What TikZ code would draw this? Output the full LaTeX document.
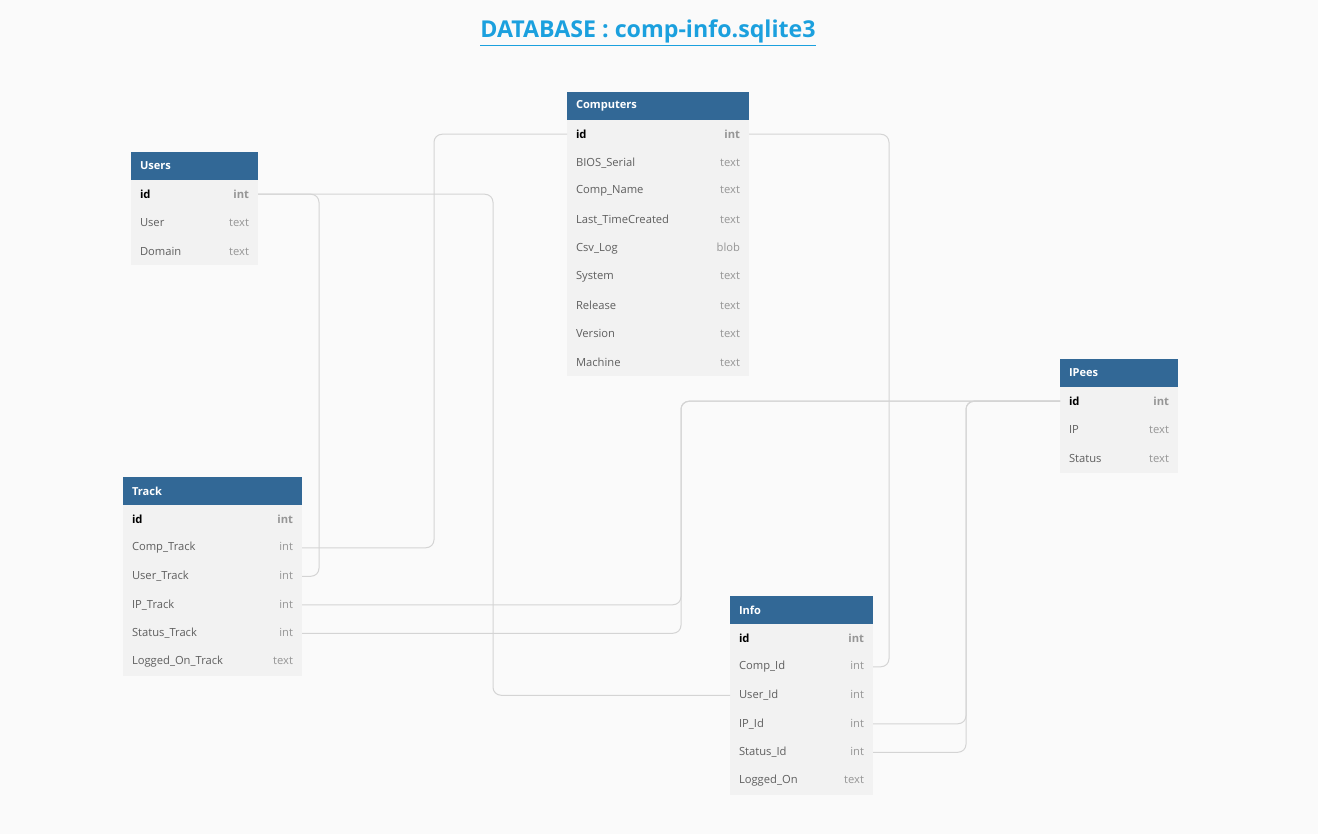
\documentclass[tikz,border=0pt]{standalone}
\usepackage{fontspec}
\setmainfont{Open Sans}
\usepackage{tikz}
\usetikzlibrary{positioning,calc}
\definecolor{hdblue}{RGB}{50,104,150}
\definecolor{rowgray}{RGB}{242,242,242}
\definecolor{bggray}{RGB}{250,250,250}
\definecolor{fieldgray}{RGB}{95,95,95}
\definecolor{typegray}{RGB}{150,150,150}
\definecolor{linkgray}{RGB}{212,212,212}
\definecolor{titleblue}{RGB}{27,160,222}
\newcommand{\typ}[1]{\hfill{\color{typegray}#1}}

\begin{document}
\begin{tikzpicture}[x=0.75pt,y=-0.75pt,
   hd/.style={fill=hdblue, text=white, anchor=north west, align=left,
              font=\fontsize{8.3}{10}\selectfont\bfseries, minimum height=21pt,
              inner xsep=6.75pt, inner ysep=0pt, outer sep=0pt},
   fld/.style={fill=rowgray, text=fieldgray, align=left,
               font=\fontsize{8.4}{10}\selectfont, minimum height=21.375pt,
               inner xsep=6.75pt, inner ysep=0pt, outer sep=0pt},
   key/.style={fld, text=black, font=\fontsize{8.4}{10}\selectfont\bfseries},
   link/.style={draw=linkgray, line width=0.75pt, rounded corners=6pt},
   title/.style={text=titleblue, font=\fontsize{17.4}{20}\selectfont\bfseries}]
  \fill[bggray] (0,0) rectangle (1318,834);
  \useasboundingbox (0,0) rectangle (1318,834);
  \node[title] (head) at (648,33) {\underline{DATABASE : comp-info.sqlite3}};
  % Users
  \node[hd, text width=81.75pt] (users) at (131,152) {Users};
  \node[key, text width=81.75pt, below=0pt of users] (users-id) {id\typ{int}};
  \node[fld, text width=81.75pt, below=0pt of users-id] (users-user) {User\typ{text}};
  \node[fld, text width=81.75pt, below=0pt of users-user] (users-domain) {Domain\typ{text}};
  % Computers
  \node[hd, text width=123pt] (comp) at (567,92) {Computers};
  \node[key, text width=123pt, below=0pt of comp] (comp-id) {id\typ{int}};
  \node[fld, text width=123pt, below=0pt of comp-id] (comp-bios) {BIOS\_Serial\typ{text}};
  \node[fld, text width=123pt, below=0pt of comp-bios] (comp-name) {Comp\_Name\typ{text}};
  \node[fld, text width=123pt, below=0pt of comp-name] (comp-last) {Last\_TimeCreated\typ{text}};
  \node[fld, text width=123pt, below=0pt of comp-last] (comp-csv) {Csv\_Log\typ{blob}};
  \node[fld, text width=123pt, below=0pt of comp-csv] (comp-sys) {System\typ{text}};
  \node[fld, text width=123pt, below=0pt of comp-sys] (comp-rel) {Release\typ{text}};
  \node[fld, text width=123pt, below=0pt of comp-rel] (comp-ver) {Version\typ{text}};
  \node[fld, text width=123pt, below=0pt of comp-ver] (comp-mach) {Machine\typ{text}};
  % Track
  \node[hd, text width=120.75pt] (track) at (123,477) {Track};
  \node[key, text width=120.75pt, below=0pt of track] (track-id) {id\typ{int}};
  \node[fld, text width=120.75pt, below=0pt of track-id] (track-comp) {Comp\_Track\typ{int}};
  \node[fld, text width=120.75pt, below=0pt of track-comp] (track-user) {User\_Track\typ{int}};
  \node[fld, text width=120.75pt, below=0pt of track-user] (track-ip) {IP\_Track\typ{int}};
  \node[fld, text width=120.75pt, below=0pt of track-ip] (track-status) {Status\_Track\typ{int}};
  \node[fld, text width=120.75pt, below=0pt of track-status] (track-logged) {Logged\_On\_Track\typ{text}};
  % Info
  \node[hd, text width=93.75pt] (info) at (730,596) {Info};
  \node[key, text width=93.75pt, below=0pt of info] (info-id) {id\typ{int}};
  \node[fld, text width=93.75pt, below=0pt of info-id] (info-comp) {Comp\_Id\typ{int}};
  \node[fld, text width=93.75pt, below=0pt of info-comp] (info-user) {User\_Id\typ{int}};
  \node[fld, text width=93.75pt, below=0pt of info-user] (info-ip) {IP\_Id\typ{int}};
  \node[fld, text width=93.75pt, below=0pt of info-ip] (info-status) {Status\_Id\typ{int}};
  \node[fld, text width=93.75pt, below=0pt of info-status] (info-logged) {Logged\_On\typ{text}};
  % IPees
  \node[hd, text width=75pt] (ipees) at (1060,359) {IPees};
  \node[key, text width=75pt, below=0pt of ipees] (ip-id) {id\typ{int}};
  \node[fld, text width=75pt, below=0pt of ip-id] (ip-ip) {IP\typ{text}};
  \node[fld, text width=75pt, below=0pt of ip-ip] (ip-status) {Status\typ{text}};
  % links
  \draw[link] (comp-id.east) -| ($(info-comp.east)+(16,0)$) -- (info-comp.east);
  \draw[link] (users-id.east) -- ($(users-id.east)+(235,0)$) |- (info-user.west);
  \draw[link] (users-id.east) -| ($(track-user.east)+(17,0)$) -- (track-user.east);
  \draw[link] (track-comp.east) -| ($(comp-id.west)+(-133,0)$) -- (comp-id.west);
  \draw[link] (track-ip.east) -| ($(ip-id.west)+(-379,0)$) -- (ip-id.west);
  \draw[link] (track-status.east) -| ($(ip-id.west)+(-379,0)$) -- (ip-id.west);
  \draw[link] (info-ip.east) -| ($(ip-id.west)+(-94,0)$) -- (ip-id.west);
  \draw[link] (info-status.east) -| ($(ip-id.west)+(-94,0)$) -- (ip-id.west);
\end{tikzpicture}
\end{document}
